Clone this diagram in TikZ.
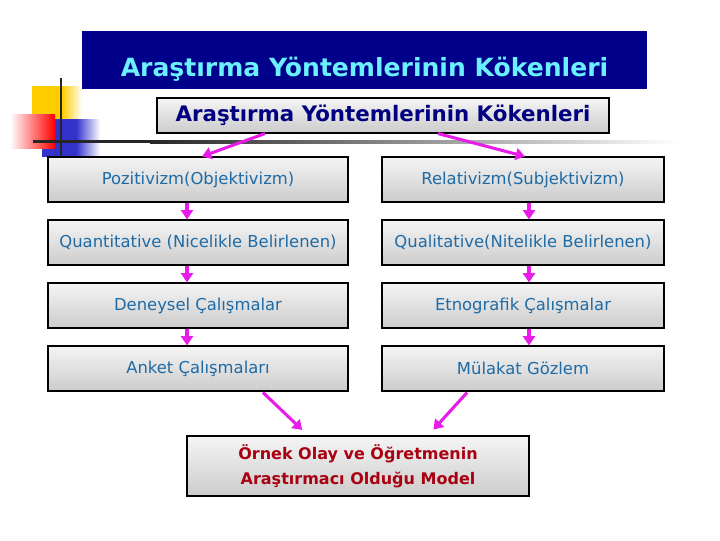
\documentclass[tikz,border=0pt]{standalone}
\usepackage{fontspec}
\setmainfont{DejaVu Sans}
\usetikzlibrary{arrows.meta}

\definecolor{baslik}{HTML}{00008A}
\definecolor{baslikyazi}{HTML}{6AF0FF}
\definecolor{lacivert}{HTML}{000080}
\definecolor{kutuyazi}{HTML}{1F6BA5}
\definecolor{koyukirmizi}{HTML}{A80010}
\definecolor{pembe}{HTML}{E81CE8}
\definecolor{sari}{HTML}{FFCC00}
\definecolor{mavi}{HTML}{3333CC}

\tikzset{
  kutu/.style={draw=black, line width=0.8pt, inner sep=0pt, align=center,
    top color=gray!8, bottom color=gray!40, text=kutuyazi,
    font=\fontsize{12.3}{15}\selectfont},
  ok/.style={draw=pembe, line width=2.3pt, -{Triangle[length=7pt,width=9pt]}}
}

\begin{document}
\begin{tikzpicture}[x=0.75pt, y=-0.75pt]
\useasboundingbox (0,0) rectangle (720,540);

% sol ust suslemeler
\fill[sari] (32,86) rectangle (62,119);
\shade[left color=sari, right color=white] (62,86) rectangle (82,119);
\fill[mavi] (42,119) rectangle (76,157);
\shade[left color=mavi, right color=white] (76,119) rectangle (100,157);
\shade[left color=white, right color=red] (10,114) rectangle (55,148);
\draw[line width=1.8pt, black!85] (61,78) -- (61,157);
\fill[black!85] (33,140) rectangle (150,143);
\shade[left color=black!85, right color=white] (150,140) rectangle (680,143);

% baslik
\fill[baslik] (82,31) rectangle (647,89);
\node[text=baslikyazi, font=\fontsize{18.8}{22}\selectfont\bfseries] (baslik) at (364.5,69) {Araştırma Yöntemlerinin Kökenleri};

\node[kutu, minimum width=339pt, minimum height=26.25pt, text=lacivert,
  font=\fontsize{16}{19}\selectfont\bfseries] (kok) at (383,115.5) {Araştırma Yöntemlerinin Kökenleri};

% sol sutun
\node[kutu, minimum width=225pt, minimum height=33.75pt] (poz) at (198,179.5) {Pozitivizm(Objektivizm)};
\node[kutu, minimum width=225pt, minimum height=33.75pt] (nic) at (198,242.5) {Quantitative (Nicelikle Belirlenen)};
\node[kutu, minimum width=225pt, minimum height=33.75pt] (den) at (198,305.5) {Deneysel Çalışmalar};
\node[kutu, minimum width=225pt, minimum height=33.75pt] (ank) at (198,368.5) {Anket Çalışmaları};

% sag sutun
\node[kutu, minimum width=211.5pt, minimum height=33.75pt] (rel) at (523,179.5) {Relativizm(Subjektivizm)};
\node[kutu, minimum width=211.5pt, minimum height=33.75pt] (nit) at (523,242.5) {Qualitative(Nitelikle Belirlenen)};
\node[kutu, minimum width=211.5pt, minimum height=33.75pt] (etn) at (523,305.5) {Etnografik Çalışmalar};
\node[kutu, minimum width=211.5pt, minimum height=33.75pt] (mul) at (523,368.5) {Mülakat Gözlem};

\node[kutu, minimum width=256.5pt, minimum height=45pt, text=koyukirmizi,
  font=\fontsize{12}{19}\selectfont\bfseries] (ornek) at (358,466) {Örnek Olay ve Öğretmenin\\Araştırmacı Olduğu Model};

% oklar
\draw[ok] ([shift={(-118,0)}]kok.south) -- ([shift={(4,0)}]poz.north);
\draw[ok] ([shift={(55,0)}]kok.south) -- ([shift={(2,0)}]rel.north);
\draw[ok] ([shift={(-11,0)}]poz.south) -- ([shift={(-11,0)}]nic.north);
\draw[ok] ([shift={(-11,0)}]nic.south) -- ([shift={(-11,0)}]den.north);
\draw[ok] ([shift={(-11,0)}]den.south) -- ([shift={(-11,0)}]ank.north);
\draw[ok] ([shift={(6,0)}]rel.south) -- ([shift={(6,0)}]nit.north);
\draw[ok] ([shift={(6,0)}]nit.south) -- ([shift={(6,0)}]etn.north);
\draw[ok] ([shift={(6,0)}]etn.south) -- ([shift={(6,0)}]mul.north);
\draw[ok, shorten <=1pt, shorten >=6pt] ([shift={(64,0)}]ank.south) -- ([shift={(-50,0)}]ornek.north);
\draw[ok, shorten <=1pt, shorten >=6pt] ([shift={(-55,0)}]mul.south) -- ([shift={(70,0)}]ornek.north);
\end{tikzpicture}
\end{document}
